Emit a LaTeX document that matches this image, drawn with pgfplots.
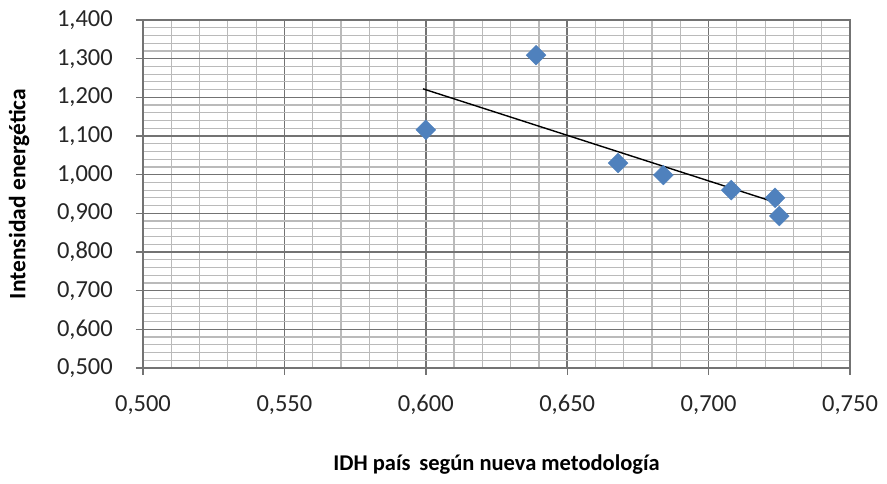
\documentclass[border=0pt]{standalone}
\usepackage{pgfplots}
\pgfplotsset{compat=1.18}
\usepackage{fontspec}
\setmainfont{Carlito}
\definecolor{mkblue}{HTML}{4F81BD}
\begin{document}
\begin{tikzpicture}
\begin{axis}[
  name=ax,
  scale only axis, width=707pt, height=348pt,
  xmin=0.5, xmax=0.75, ymin=0.5, ymax=1.4,
  xtick={0.5,0.55,0.6,0.65,0.7,0.75},
  ytick={0.5,0.6,0.7,0.8,0.9,1.0,1.1,1.2,1.3,1.4},
  minor xtick={0.51,0.52,0.53,0.54,0.56,0.57,0.58,0.59,0.61,0.62,0.63,0.64,0.66,0.67,0.68,0.69,0.71,0.72,0.73,0.74},
  minor ytick={0.52,0.54,0.56,0.58,0.62,0.64,0.66,0.68,0.72,0.74,0.76,0.78,0.82,0.84,0.86,0.88,0.92,0.94,0.96,0.98,1.02,1.04,1.06,1.08,1.12,1.14,1.16,1.18,1.22,1.24,1.26,1.28,1.32,1.34,1.36,1.38},
  grid=both,
  major grid style={draw=black!55, line width=1.6pt},
  minor grid style={draw=black!27, line width=1.2pt},
  axis line style={draw=black!55, line width=1.6pt},
  tick align=outside, major tick length=7pt, minor tick length=0pt,
  tick style={draw=black!55, line width=1.4pt},
  xtick pos=bottom, ytick pos=left,
  /pgf/number format/.cd, fixed, fixed zerofill, precision=3, use comma, assume math mode=true,
  /pgfplots/.cd,
  ticklabel style={font=\fontsize{24.5}{28}\selectfont, text=black!85},
  xticklabel style={anchor=center, inner sep=0pt},
  yticklabel style={anchor=east, inner sep=0pt},
  xticklabel shift=30pt,
  yticklabel shift=23pt,
  xlabel={\textbf{IDH país\, según nueva metodología}},
  ylabel={\textbf{Intensidad energética}},
  xlabel style={font=\fontsize{22.5}{26}\selectfont, anchor=center, at={(axis description cs:0.5,0)}, yshift=-97pt},
  ylabel style={font=\fontsize{23.5}{26}\selectfont, anchor=center, at={(axis description cs:0,0.5)}, yshift=124pt},
]
\addplot[only marks, mark=square*, mark size=7pt, mark options={rotate=45, fill=mkblue, draw=mkblue}] coordinates {
 (0.600,1.116) (0.639,1.309) (0.668,1.030) (0.684,0.999) (0.708,0.960) (0.7235,0.940) (0.725,0.893)
};
\addplot[black, line width=1.4pt] coordinates {(0.599,1.222) (0.725,0.925)};
\end{axis}
\pgfresetboundingbox
\path[use as bounding box] ([shift={(-143pt,-116pt)}]ax.south west) rectangle ([shift={(37pt,20pt)}]ax.north east);
\end{tikzpicture}
\end{document}
